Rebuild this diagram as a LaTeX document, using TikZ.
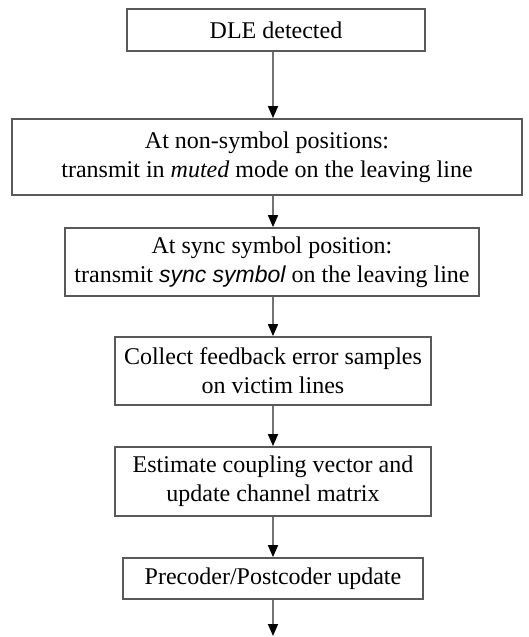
\documentclass[tikz,border=0pt]{standalone}
\usepackage{fontspec}
\setmainfont{Liberation Serif}
\newfontfamily\arialfont{Liberation Sans}
\usetikzlibrary{arrows.meta}
\begin{document}
\begin{tikzpicture}[x=0.5pt,y=-0.5pt,
  box/.style={draw=black!65,line width=0.9pt,fill=white,align=center,
    font=\fontsize{12pt}{14.5pt}\selectfont,inner sep=0pt},
  arr/.style={draw=black!55,line width=0.8pt,
    -{Triangle[length=6pt,width=5pt,color=black]}}]
\useasboundingbox (0,0) rectangle (529,637);
\coordinate (spine) at (273,0);
\node[box,minimum width=149pt,minimum height=21pt] (b1) at (276,30) {DLE detected};
\node[box,minimum width=255pt,minimum height=38pt] (b2) at (267,157)
  {At non-symbol positions:\\transmit in \textit{muted} mode on the leaving line};
\node[box,minimum width=207pt,minimum height=34pt] (b3) at (272,262)
  {At sync symbol position:\\transmit {\arialfont\itshape\fontsize{11.5pt}{14.5pt}\selectfont sync symbol} on the leaving line};
\node[box,minimum width=158pt,minimum height=34pt] (b4) at (273,371)
  {Collect feedback error samples\\on victim lines};
\node[box,minimum width=158pt,minimum height=34.5pt] (b5) at (273,481.5)
  {Estimate coupling vector and\\update channel matrix};
\node[box,minimum width=150pt,minimum height=20.5pt] (b6) at (273,578.5)
  {Precoder/Postcoder update};
\coordinate (end) at (273,636);
\draw[arr] (b1.south -| spine) -- (b2.north -| spine);
\draw[arr] (b2.south -| spine) -- (b3.north -| spine);
\draw[arr] (b3.south -| spine) -- (b4.north -| spine);
\draw[arr] (b4.south -| spine) -- (b5.north -| spine);
\draw[arr] (b5.south -| spine) -- (b6.north -| spine);
\draw[arr] (b6.south -| spine) -- (end);
\end{tikzpicture}
\end{document}
